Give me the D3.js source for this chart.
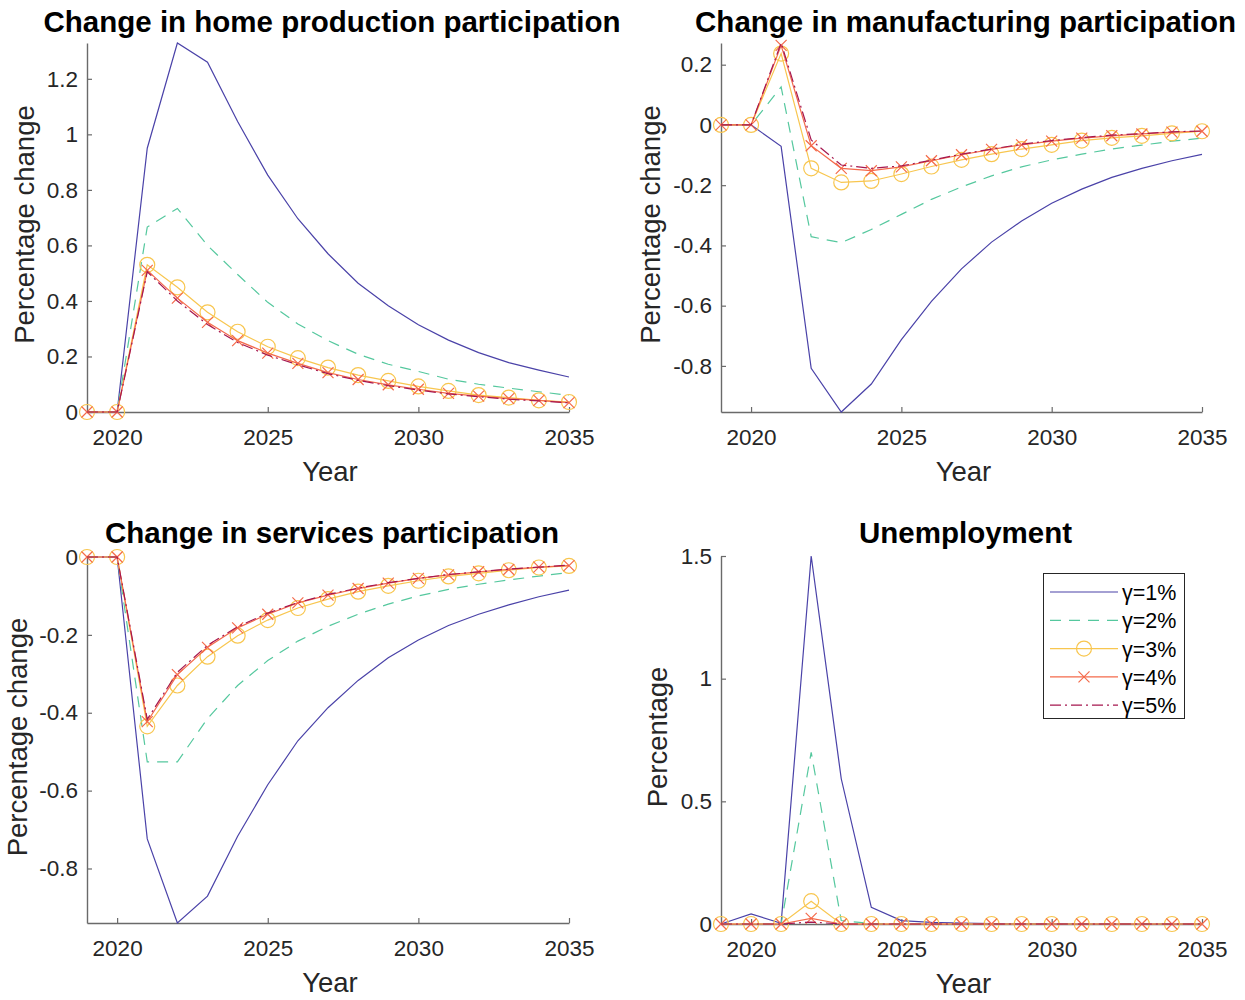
<!DOCTYPE html>
<html>
<head>
<meta charset="utf-8">
<script src="https://cdn.jsdelivr.net/npm/d3@7/dist/d3.min.js"></script>
<style>
  html, body { margin: 0; padding: 0; background: #fff; }
  svg { display: block; font-family: "Liberation Sans", Arial, Helvetica, sans-serif; }
</style>
</head>
<body>
<script>
// Years on the horizontal axis
const years = [2019, 2020, 2021, 2022, 2023, 2024, 2025, 2026, 2027, 2028, 2029, 2030, 2031, 2032, 2033, 2034, 2035];
const xTicks = [2020, 2025, 2030, 2035];
const seriesNames = ["γ=1%", "γ=2%", "γ=3%", "γ=4%", "γ=5%"];

// Change in home production participation (%)
const home1 = [0, 0, 0.95, 1.329, 1.26, 1.046, 0.853, 0.696, 0.57, 0.464, 0.383, 0.314, 0.259, 0.214, 0.178, 0.151, 0.126];
const home2 = [0, 0, 0.666, 0.733, 0.60, 0.495, 0.395, 0.317, 0.257, 0.208, 0.172, 0.146, 0.118, 0.10, 0.086, 0.073, 0.06];
const home3 = [0, 0, 0.53, 0.449, 0.359, 0.289, 0.235, 0.194, 0.16, 0.133, 0.112, 0.092, 0.076, 0.061, 0.052, 0.042, 0.036];
const home4 = [0, 0, 0.51, 0.41, 0.323, 0.257, 0.212, 0.175, 0.142, 0.117, 0.098, 0.082, 0.067, 0.057, 0.048, 0.042, 0.034];
const home5 = [0, 0, 0.505, 0.40, 0.315, 0.25, 0.205, 0.17, 0.138, 0.114, 0.095, 0.079, 0.065, 0.055, 0.046, 0.04, 0.033];

// Change in manufacturing participation (%)
const manu1 = [0, 0, -0.071, -0.808, -0.953, -0.86, -0.713, -0.586, -0.478, -0.389, -0.319, -0.26, -0.213, -0.174, -0.144, -0.119, -0.098];
const manu2 = [0, 0, 0.126, -0.371, -0.391, -0.347, -0.297, -0.247, -0.206, -0.169, -0.139, -0.116, -0.097, -0.08, -0.067, -0.054, -0.044];
const manu3 = [0, 0, 0.237, -0.144, -0.191, -0.186, -0.163, -0.138, -0.116, -0.097, -0.08, -0.066, -0.052, -0.043, -0.036, -0.028, -0.021];
const manu4 = [0, 0, 0.264, -0.069, -0.144, -0.152, -0.139, -0.119, -0.099, -0.081, -0.066, -0.054, -0.044, -0.036, -0.03, -0.024, -0.021];
const manu5 = [0, 0, 0.272, -0.05, -0.133, -0.144, -0.136, -0.117, -0.097, -0.08, -0.064, -0.052, -0.042, -0.034, -0.029, -0.023, -0.02];

// Change in services participation (%)
const serv1 = [0, 0, -0.724, -0.94, -0.871, -0.717, -0.585, -0.472, -0.387, -0.317, -0.259, -0.213, -0.176, -0.147, -0.123, -0.102, -0.085];
const serv2 = [0, 0, -0.526, -0.526, -0.415, -0.33, -0.266, -0.216, -0.178, -0.147, -0.121, -0.10, -0.083, -0.07, -0.059, -0.049, -0.04];
const serv3 = [0, 0, -0.435, -0.33, -0.256, -0.202, -0.162, -0.131, -0.108, -0.089, -0.074, -0.061, -0.05, -0.042, -0.034, -0.027, -0.023];
const serv4 = [0, 0, -0.423, -0.302, -0.232, -0.182, -0.147, -0.118, -0.098, -0.081, -0.067, -0.055, -0.046, -0.038, -0.032, -0.026, -0.022];
const serv5 = [0, 0, -0.417, -0.296, -0.227, -0.179, -0.144, -0.117, -0.096, -0.08, -0.066, -0.055, -0.045, -0.038, -0.031, -0.026, -0.021];

// Unemployment (%)
const unemp1 = [0, 0.041, 0.003, 1.5, 0.592, 0.068, 0.014, 0.007, 0.004, 0.002, 0.001, 0.001, 0, 0, 0, 0, 0];
const unemp2 = [0, 0, 0, 0.70, 0.014, 0.002, 0, 0, 0, 0, 0, 0, 0, 0, 0, 0, 0];
const unemp3 = [0, 0, 0, 0.093, 0, 0, 0, 0, 0, 0, 0, 0, 0, 0, 0, 0, 0];
const unemp4 = [0, 0, 0, 0.023, 0, 0, 0, 0, 0, 0, 0, 0, 0, 0, 0, 0, 0];
const unemp5 = [0, 0, 0, 0.008, 0, 0, 0, 0, 0, 0, 0, 0, 0, 0, 0, 0, 0];

// Y tick values per panel
const homeTicks = [0, 0.2, 0.4, 0.6, 0.8, 1, 1.2];
const manuTicks = [-0.8, -0.6, -0.4, -0.2, 0, 0.2];
const servTicks = [-0.8, -0.6, -0.4, -0.2, 0];
const unempTicks = [0, 0.5, 1, 1.5];

// Line styles for the five gamma values
const styles = [
  { color: "#4a42a8", dash: null, marker: null },
  { color: "#55c89e", dash: "11,8", marker: null },
  { color: "#f8c64f", dash: null, marker: "circle" },
  { color: "#f46a4b", dash: null, marker: "cross" },
  { color: "#a5174f", dash: "11,4,2,4", marker: null }
];

const panels = [
  { title: "Change in home production participation", ylabel: "Percentage change",
    series: [home1, home2, home3, home4, home5], ticks: homeTicks,
    left: 87, right: 569, top: 43, bottom: 412, titleY: 32, ylabX: 34 },
  { title: "Change in manufacturing participation", ylabel: "Percentage change",
    series: [manu1, manu2, manu3, manu4, manu5], ticks: manuTicks,
    left: 721, right: 1202, top: 43, bottom: 412, titleY: 32, ylabX: 660 },
  { title: "Change in services participation", ylabel: "Percentage change",
    series: [serv1, serv2, serv3, serv4, serv5], ticks: servTicks,
    left: 87, right: 569, top: 557, bottom: 923, titleY: 543, ylabX: 27 },
  { title: "Unemployment", ylabel: "Percentage",
    series: [unemp1, unemp2, unemp3, unemp4, unemp5], ticks: unempTicks,
    left: 721, right: 1202, top: 556, bottom: 924, titleY: 543, ylabX: 667, legend: true }
];

const W = 1245, H = 1000;
const svg = d3.select("body").append("svg").attr("width", W).attr("height", H);
const fmt = d => d3.format("~g")(d).replace("\u2212", "-");
const axisColor = "#6a6a6a";
const textColor = "#262626";

function drawMarker(g, kind, cx, cy, color) {
  if (kind === "circle") {
    g.append("circle").attr("cx", cx).attr("cy", cy).attr("r", 7.5)
      .attr("fill", "none").attr("stroke", color).attr("stroke-width", 1.2);
  } else if (kind === "cross") {
    const s = 5.5;
    g.append("path")
      .attr("d", `M${cx - s},${cy - s}L${cx + s},${cy + s}M${cx - s},${cy + s}L${cx + s},${cy - s}`)
      .attr("stroke", color).attr("stroke-width", 1.2).attr("fill", "none");
  }
}

panels.forEach(p => {
  const g = svg.append("g");
  const x = d3.scaleLinear().domain(d3.extent(years)).range([p.left, p.right]);
  const allVals = p.series.flat();
  const y = d3.scaleLinear().domain(d3.extent(allVals)).range([p.bottom, p.top]);

  // Axes: inward ticks, no surrounding box
  const xAxis = d3.axisBottom(x).tickValues(xTicks).tickFormat(d3.format("d"))
    .tickSizeInner(-5).tickSizeOuter(0).tickPadding(17);
  const yAxis = d3.axisLeft(y).tickValues(p.ticks).tickFormat(fmt)
    .tickSizeInner(-5).tickSizeOuter(0).tickPadding(9);

  const gx = g.append("g").attr("transform", `translate(0,${p.bottom})`).call(xAxis);
  const gy = g.append("g").attr("transform", `translate(${p.left},0)`).call(yAxis);
  [gx, gy].forEach(a => {
    a.select(".domain").attr("stroke", axisColor).attr("stroke-width", 1.4);
    a.selectAll(".tick line").attr("stroke", axisColor).attr("stroke-width", 1.2);
    a.selectAll(".tick text").attr("fill", textColor).attr("font-size", 22.5)
      .attr("font-family", "'Liberation Sans', Arial, sans-serif");
  });

  // Series lines
  p.series.forEach((vals, i) => {
    const st = styles[i];
    const pts = years.map((yr, k) => [x(yr), y(vals[k])]);
    g.append("path").attr("d", d3.line()(pts))
      .attr("fill", "none").attr("stroke", st.color).attr("stroke-width", 1.2)
      .attr("stroke-dasharray", st.dash);
    if (st.marker) pts.forEach(pt => drawMarker(g, st.marker, pt[0], pt[1], st.color));
  });

  // Title
  g.append("text").attr("x", (p.left + p.right) / 2 + 4).attr("y", p.titleY)
    .attr("text-anchor", "middle").attr("font-size", 29.5).attr("font-weight", "bold")
    .attr("fill", "#000").text(p.title);

  // X label
  g.append("text").attr("x", (p.left + p.right) / 2 + 2).attr("y", p.bottom + 69)
    .attr("text-anchor", "middle").attr("font-size", 27.5).attr("fill", textColor).text("Year");

  // Y label
  const cy = (p.top + p.bottom) / 2 - 3;
  g.append("text").attr("transform", `translate(${p.ylabX},${cy}) rotate(-90)`)
    .attr("text-anchor", "middle").attr("font-size", 27.5).attr("fill", textColor).text(p.ylabel);

  // Legend
  if (p.legend) {
    const lx = 1043, ly = 573, lw = 141, lh = 145;
    const lg = svg.append("g");
    lg.append("rect").attr("x", lx + 0.5).attr("y", ly + 0.5).attr("width", lw).attr("height", lh)
      .attr("fill", "#fff").attr("stroke", "#262626").attr("stroke-width", 1);
    seriesNames.forEach((name, i) => {
      const st = styles[i];
      const ry = ly + 19 + i * 28.3;
      lg.append("line").attr("x1", lx + 7).attr("x2", lx + 75).attr("y1", ry).attr("y2", ry)
        .attr("stroke", st.color).attr("stroke-width", 1.2).attr("stroke-dasharray", st.dash);
      if (st.marker) drawMarker(lg, st.marker, lx + 41, ry, st.color);
      lg.append("text").attr("x", lx + 79).attr("y", ry + 8).attr("font-size", 21.5)
        .attr("fill", "#000").text(name);
    });
  }
});
</script>
</body>
</html>
